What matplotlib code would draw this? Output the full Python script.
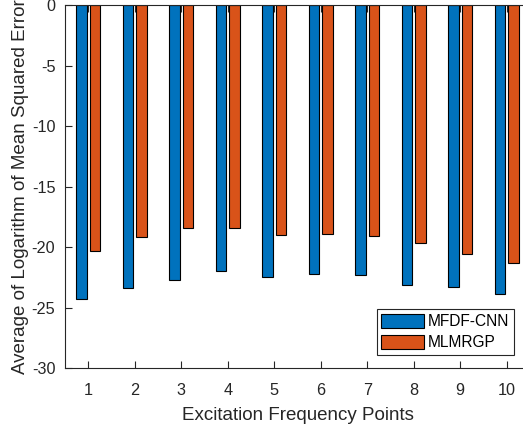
import matplotlib.pyplot as plt
import numpy as np

plt.rcParams['font.family'] = ['Liberation Sans', 'DejaVu Sans']
plt.rcParams['axes.unicode_minus'] = False

points = np.arange(1, 11)
mfdf_cnn = [-24.3, -23.4, -22.7, -22.0, -22.45, -22.2, -22.3, -23.1, -23.3, -23.9]
mlmrgp = [-20.35, -19.2, -18.4, -18.4, -19.0, -18.9, -19.05, -19.7, -20.55, -21.35]
labels = ["MFDF-CNN", "MLMRGP"]

fig = plt.figure(figsize=(5.23, 4.25), dpi=100)
ax = fig.add_axes([0.1243, 0.134, 0.889, 0.854])

w = 0.23
ax.bar(points - 0.143, mfdf_cnn, w, color="#0072BD", edgecolor="black", linewidth=0.8, label=labels[0])
ax.bar(points + 0.143, mlmrgp, w, color="#D95319", edgecolor="black", linewidth=0.8, label=labels[1])

ax.set_xlim(0.5, 10.5)
ax.set_ylim(-30, 0)
ax.set_xticks(points)
ax.set_yticks(np.arange(-30, 1, 5))
ax.tick_params(direction="in", length=5, width=0.8, labelsize=11.7, colors="#262626",
               top=True, right=True)
ax.tick_params(axis="x", pad=10.5)
ax.tick_params(axis="y", pad=7)
for s in ax.spines.values():
    s.set_color("#262626")
    s.set_linewidth(0.8)

ax.set_xlabel("Excitation Frequency Points", fontsize=13.5, color="#262626", labelpad=6.5)
ax.set_ylabel("Average of Logarithm of Mean Squared Error", fontsize=13.5, color="#262626", labelpad=2)

leg = ax.legend(loc="lower right", bbox_to_anchor=(0.9656, 0.0358), fontsize=11.2,
                fancybox=False, framealpha=1, edgecolor="#262626", handlelength=2.75,
                handleheight=1.0, handletextpad=0.25, borderpad=0.3, labelspacing=0.4,
                borderaxespad=0)
leg.get_frame().set_linewidth(0.8)

plt.savefig("out.png", dpi=100)
